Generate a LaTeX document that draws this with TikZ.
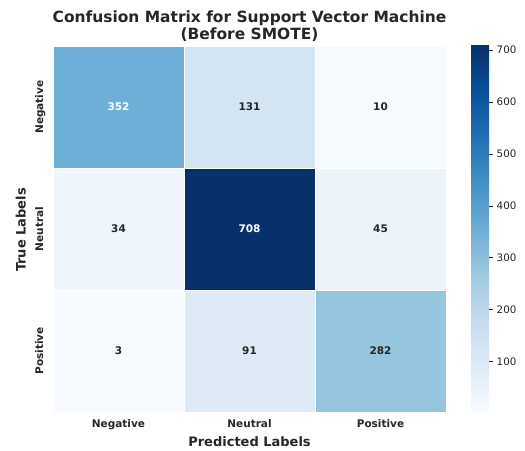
\documentclass[tikz,border=0pt]{standalone}
\usepackage{fontspec}
\setmainfont{DejaVu Sans}
\definecolor{txt}{HTML}{262626}
\definecolor{c352}{rgb}{0.4276,0.6868,0.8409}
\definecolor{c131}{rgb}{0.828,0.893,0.954}
\definecolor{c10}{rgb}{0.9609,0.9793,0.9975}
\definecolor{c34}{rgb}{0.934,0.962,0.989}
\definecolor{c708}{rgb}{0.0314,0.1882,0.4196}
\definecolor{c45}{rgb}{0.922,0.954,0.985}
\definecolor{c3}{rgb}{0.9686,0.9843,1.0}
\definecolor{c91}{rgb}{0.8706,0.9216,0.9686}
\definecolor{c282}{rgb}{0.5864,0.774,0.875}
\definecolor{b0}{HTML}{F7FBFF}
\definecolor{b1}{HTML}{DEEBF7}
\definecolor{b2}{HTML}{C6DBEF}
\definecolor{b3}{HTML}{9ECAE1}
\definecolor{b4}{HTML}{6BAED6}
\definecolor{b5}{HTML}{4292C6}
\definecolor{b6}{HTML}{2171B5}
\definecolor{b7}{HTML}{08519C}
\definecolor{b8}{HTML}{08306B}
\begin{document}
\begin{tikzpicture}[x=1pt,y=1pt,
  cell/.style={rectangle,inner sep=0pt,minimum width=131pt,minimum height=122pt,
    draw=white,line width=0.5pt,font=\fontsize{10.5}{12}\selectfont\bfseries,text=txt},
  wcell/.style={cell,text=white},
  ticklab/.style={font=\fontsize{10.5}{12}\selectfont\bfseries,text=txt,inner sep=0pt},
  axlab/.style={font=\fontsize{13}{15}\selectfont\bfseries,text=txt,inner sep=0pt},
  titlab/.style={font=\fontsize{15.45}{18}\selectfont\bfseries,text=txt,inner sep=0pt},
  cblab/.style={font=\fontsize{10.3}{12}\selectfont,text=txt,inner sep=0pt,anchor=west},
  cbtick/.style={draw=txt,line width=0.7pt}]
\useasboundingbox (0,0) rectangle (525,450);
% heatmap cells
\node[wcell,fill=c352] (m11) at (118.5,343) {352};
\node[cell,fill=c131] (m12) at (249.5,343) {131};
\node[cell,fill=c10]  (m13) at (380.5,343) {10};
\node[cell,fill=c34]  (m21) at (118.5,221) {34};
\node[wcell,fill=c708] (m22) at (249.5,221) {708};
\node[cell,fill=c45]  (m23) at (380.5,221) {45};
\node[cell,fill=c3]   (m31) at (118.5,99) {3};
\node[cell,fill=c91]  (m32) at (249.5,99) {91};
\node[cell,fill=c282] (m33) at (380.5,99) {282};
% x tick labels
\node[ticklab,anchor=base] (xneg) at (118.5,22) {Negative};
\node[ticklab,anchor=base] (xneu) at (249.5,22) {Neutral};
\node[ticklab,anchor=base] (xpos) at (380.5,22) {Positive};
% y tick labels
\node[ticklab,anchor=base,rotate=90] (yneg) at (43,343) {Negative};
\node[ticklab,anchor=base,rotate=90] (yneu) at (43,221) {Neutral};
\node[ticklab,anchor=base,rotate=90] (ypos) at (43,99) {Positive};
% axis labels
\node[axlab,anchor=base] (xlab) at (249.5,3) {Predicted Labels};
\node[axlab,anchor=base,rotate=90] (ylab) at (25.6,220) {True Labels};
% title
\node[titlab,anchor=base] (t1) at (249.5,427.3) {Confusion Matrix for Support Vector Machine};
\node[titlab,anchor=base] (t2) at (249.5,410.6) {(Before SMOTE)};
% colorbar
\foreach \i [evaluate=\i as \lo using {38+45.75*\i}, evaluate=\i as \hi using {38+45.75*(\i+1)}, evaluate=\i as \j using {int(\i+1)}] in {0,...,7}{
  \shade[bottom color=b\i, top color=b\j] (471,\lo) rectangle (489,\hi);
}
\foreach \v in {100,200,...,700}{
  \pgfmathsetmacro{\yy}{38+(\v-3)*0.519149}
  \coordinate (cb\v) at (489,\yy);
  \coordinate (cbe\v) at (493,\yy);
  \draw[cbtick] (cb\v) -- (cbe\v);
  \node[cblab] (cbl\v) at (496.5,\yy) {\v};
}
\end{tikzpicture}
\end{document}
